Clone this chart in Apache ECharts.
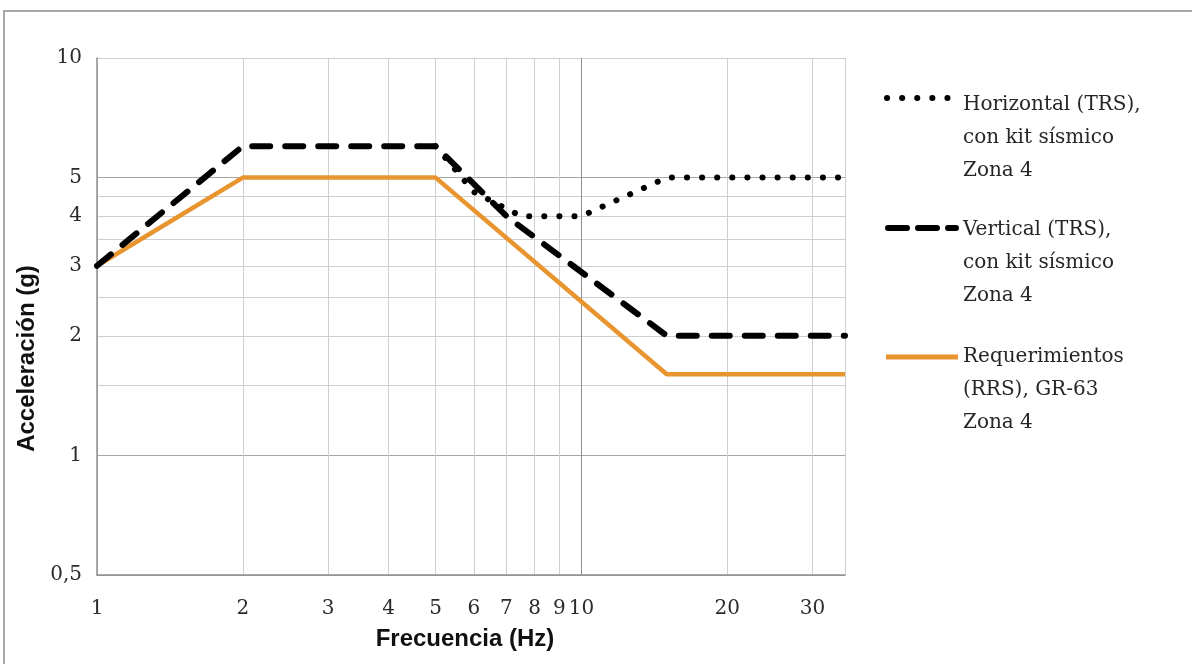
<!DOCTYPE html>
<html>
<head>
<meta charset="utf-8">
<style>html,body{margin:0;padding:0;background:#fff}#chart{width:1192px;height:664px}</style>
<script src="https://cdn.jsdelivr.net/npm/echarts@6/dist/echarts.min.js"></script>
</head>
<body>
<div id="chart"></div>
<script>
// Axis ticks / grid values
const freqGrid = [1, 2, 3, 4, 5, 6, 7, 8, 9, 10, 20, 30, 35];
const freqLabels = [1, 2, 3, 4, 5, 6, 7, 8, 9, 10, 20, 30];
const accelGrid = [0.5, 1, 1.5, 2, 2.5, 3, 3.5, 4, 4.5, 5, 10];
const accelLabels = [0.5, 1, 2, 3, 4, 5, 10];

// Series (frequency Hz, acceleration g)
const horizontalFreq = [5, 6, 7.5, 10, 15, 35];
const horizontalAccel = [6, 4.6, 4, 4, 5, 5];
const verticalFreq = [1, 2, 5, 7, 15, 35];
const verticalAccel = [3, 6, 6, 4, 2, 2];
const rrsFreq = [1, 2, 5, 15, 35];
const rrsAccel = [3, 5, 5, 1.6, 1.6];

const legendNames = [
  'Horizontal (TRS),\ncon kit sísmico\nZona 4',
  'Vertical (TRS),\ncon kit sísmico\nZona 4',
  'Requerimientos\n(RRS), GR-63\nZona 4'
];

const zip = (xs, ys) => xs.map((x, i) => [x, ys[i]]);

const chart = echarts.init(document.getElementById('chart'));
const light = '#cfcfcf', dark = '#8f8f8f';
const xColors = freqGrid.map(v => v === 10 ? dark : light);
const yColors = accelGrid.map(v => (v === 0.5 || v === 1 || v === 5) ? '#a6a6a6' : light);
const legendText = { fontFamily: 'DejaVu Serif', fontSize: 20, fill: '#262626', lineHeight: 33 };

chart.setOption({
  animation: false,
  backgroundColor: '#fff',
  grid: { left: 97, right: 1192 - 845, top: 58, bottom: 664 - 575, containLabel: false },
  xAxis: {
    type: 'log', logBase: 10, min: 1, max: 35,
    name: 'Frecuencia (Hz)', nameLocation: 'middle', nameGap: 52,
    nameTextStyle: { fontFamily: 'Liberation Sans', fontWeight: 'bold', fontSize: 24, color: '#111', padding: [0, 12, 0, 0] },
    axisLine: { show: true, lineStyle: { color: '#8f8f8f', width: 1.5 } },
    axisTick: { show: false, customValues: freqGrid },
    axisLabel: { customValues: freqLabels, margin: 24, fontFamily: 'DejaVu Serif', fontSize: 20, color: '#2b2b2b',
      formatter: v => String(v) },
    splitLine: { show: true, lineStyle: { color: xColors, width: 1 } },
    minorSplitLine: { show: false }
  },
  yAxis: {
    type: 'log', logBase: 10, min: 0.5, max: 10,
    name: 'Acceleración (g)', nameLocation: 'middle', nameGap: 54, nameRotate: 90,
    nameTextStyle: { fontFamily: 'Liberation Sans', fontWeight: 'bold', fontSize: 24, color: '#111', padding: [0, 84, 0, 0] },
    axisLine: { show: true, lineStyle: { color: '#8f8f8f', width: 1.5 } },
    axisTick: { show: false, customValues: accelGrid },
    axisLabel: { customValues: accelLabels, margin: 15, fontFamily: 'DejaVu Serif', fontSize: 20, color: '#2b2b2b',
      formatter: v => String(v).replace('.', ',') },
    splitLine: { show: true, lineStyle: { color: yColors, width: 1 } }
  },
  series: [
    { name: legendNames[2], type: 'line', data: zip(rrsFreq, rrsAccel), showSymbol: false, z: 2,
      lineStyle: { color: '#E8952F', width: 4.5 } },
    { name: legendNames[1], type: 'line', data: zip(verticalFreq, verticalAccel), showSymbol: false, z: 3,
      lineStyle: { color: '#000', width: 6, type: [18, 15], cap: 'round', join: 'round' } },
    { name: legendNames[0], type: 'line', data: zip(horizontalFreq, horizontalAccel), showSymbol: false, z: 4,
      lineStyle: { color: '#000', width: 6, type: [0.1, 15], cap: 'round', join: 'round' } }
  ],
  graphic: [
    { type: 'rect', z: -10, silent: true, shape: { x: 4, y: 11, width: 1220, height: 720 },
      style: { fill: 'none', stroke: '#a8a8a8', lineWidth: 2 } },
    { type: 'line', silent: true, shape: { x1: 887, y1: 98, x2: 955, y2: 98 },
      style: { stroke: '#000', lineWidth: 6, lineDash: [0.1, 15], lineCap: 'round' } },
    { type: 'text', left: 963, top: 88, style: Object.assign({ text: legendNames[0] }, legendText) },
    { type: 'line', silent: true, shape: { x1: 888, y1: 228, x2: 956, y2: 228 },
      style: { stroke: '#000', lineWidth: 6, lineDash: [19, 11], lineCap: 'round' } },
    { type: 'text', left: 963, top: 213, style: Object.assign({ text: legendNames[1] }, legendText) },
    { type: 'line', silent: true, shape: { x1: 886, y1: 357, x2: 958, y2: 357 },
      style: { stroke: '#E8952F', lineWidth: 5 } },
    { type: 'text', left: 963, top: 340, style: Object.assign({ text: legendNames[2] }, legendText) }
  ]
});
</script>
</body>
</html>
